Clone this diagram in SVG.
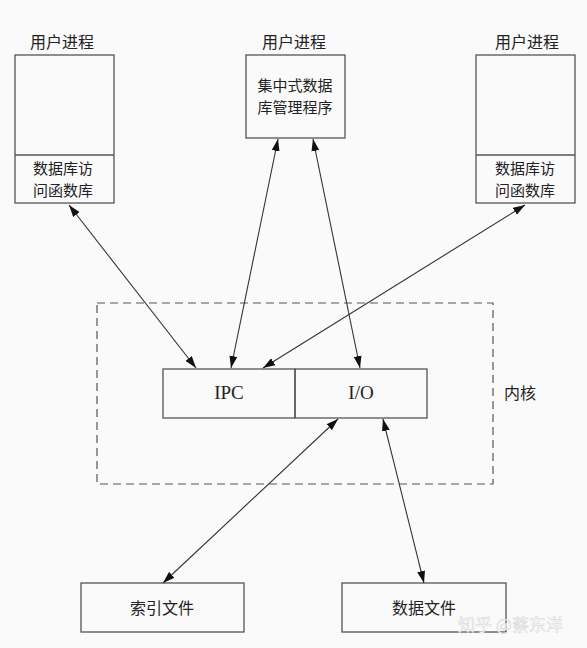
<svg xmlns="http://www.w3.org/2000/svg" width="587" height="648" viewBox="0 0 587 648">
  <style>
    .box { fill: none; stroke: #555; stroke-width: 1.3; }
    .cjk { font-family: "Noto Sans CJK SC", "Noto Sans", sans-serif; font-size: 16px; fill: #222; text-anchor: middle; }
    .cjk2 { font-family: "Noto Sans CJK SC", "Noto Sans", sans-serif; font-size: 15px; fill: #222; text-anchor: middle; }
    .lat { font-family: "Liberation Serif", serif; font-size: 19px; fill: #222; text-anchor: middle; }
    .link { stroke: #333; stroke-width: 1.1; fill: none; marker-start: url(#head); marker-end: url(#head); }
    .mark { font-family: "Noto Sans CJK SC", sans-serif; font-size: 17px; fill: #fcfcfc; stroke: #d4d4d4; stroke-width: 0.5; }
  </style>
  <defs>
    <marker id="head" viewBox="0 0 12 8" refX="12" refY="4" markerWidth="12" markerHeight="8" markerUnits="userSpaceOnUse" orient="auto-start-reverse">
      <path d="M0,0 L12,4 L0,8 Z" fill="#111"/>
    </marker>
  </defs>
  <rect width="587" height="648" fill="#fafafa"/>

  <!-- user process, left -->
  <g id="proc-left">
    <text class="cjk" x="62" y="48">用户进程</text>
    <rect class="box" x="15" y="55" width="99" height="148"/>
    <line class="box" x1="15" y1="155" x2="114" y2="155"/>
    <text class="cjk2" x="63" y="174">数据库访</text>
    <text class="cjk2" x="63" y="196">问函数库</text>
  </g>

  <!-- user process, centre: the DBMS -->
  <g id="proc-dbms">
    <text class="cjk" x="294" y="48">用户进程</text>
    <rect class="box" x="246" y="55" width="99" height="83"/>
    <text class="cjk2" x="295" y="91">集中式数据</text>
    <text class="cjk2" x="295" y="113">库管理程序</text>
  </g>

  <!-- user process, right -->
  <g id="proc-right">
    <text class="cjk" x="527" y="48">用户进程</text>
    <rect class="box" x="476" y="55" width="99" height="148"/>
    <line class="box" x1="476" y1="155" x2="575" y2="155"/>
    <text class="cjk2" x="525" y="174">数据库访</text>
    <text class="cjk2" x="525" y="196">问函数库</text>
  </g>

  <!-- kernel boundary -->
  <g id="kernel">
    <rect x="97" y="303" width="396" height="181" fill="none" stroke="#555" stroke-width="1.2" stroke-dasharray="8,5"/>
    <text class="cjk" x="520" y="399">内核</text>
  </g>

  <g id="ipc">
    <rect class="box" x="163" y="369" width="132" height="49"/>
    <text class="lat" x="229" y="399">IPC</text>
  </g>

  <g id="io">
    <rect class="box" x="295" y="369" width="132" height="49"/>
    <text class="lat" x="361" y="399">I/O</text>
  </g>

  <g id="index-file">
    <rect class="box" x="81" y="583" width="163" height="49"/>
    <text class="cjk" x="162" y="614">索引文件</text>
  </g>

  <g id="data-file">
    <rect class="box" x="342" y="583" width="164" height="49"/>
    <text class="cjk" x="424" y="614">数据文件</text>
  </g>

  <!-- connectors, arrowheads at both ends -->
  <g id="connectors">
    <line class="link" x1="69" y1="205" x2="196" y2="368"/>
    <line class="link" x1="278" y1="139" x2="231" y2="368"/>
    <line class="link" x1="313" y1="139" x2="360" y2="368"/>
    <line class="link" x1="525" y1="205" x2="263" y2="368"/>
    <line class="link" x1="338" y1="419" x2="163" y2="583"/>
    <line class="link" x1="383" y1="419" x2="424" y2="583"/>
  </g>

  <text class="mark" x="458" y="631">知乎 @蔡东洋</text>
</svg>
